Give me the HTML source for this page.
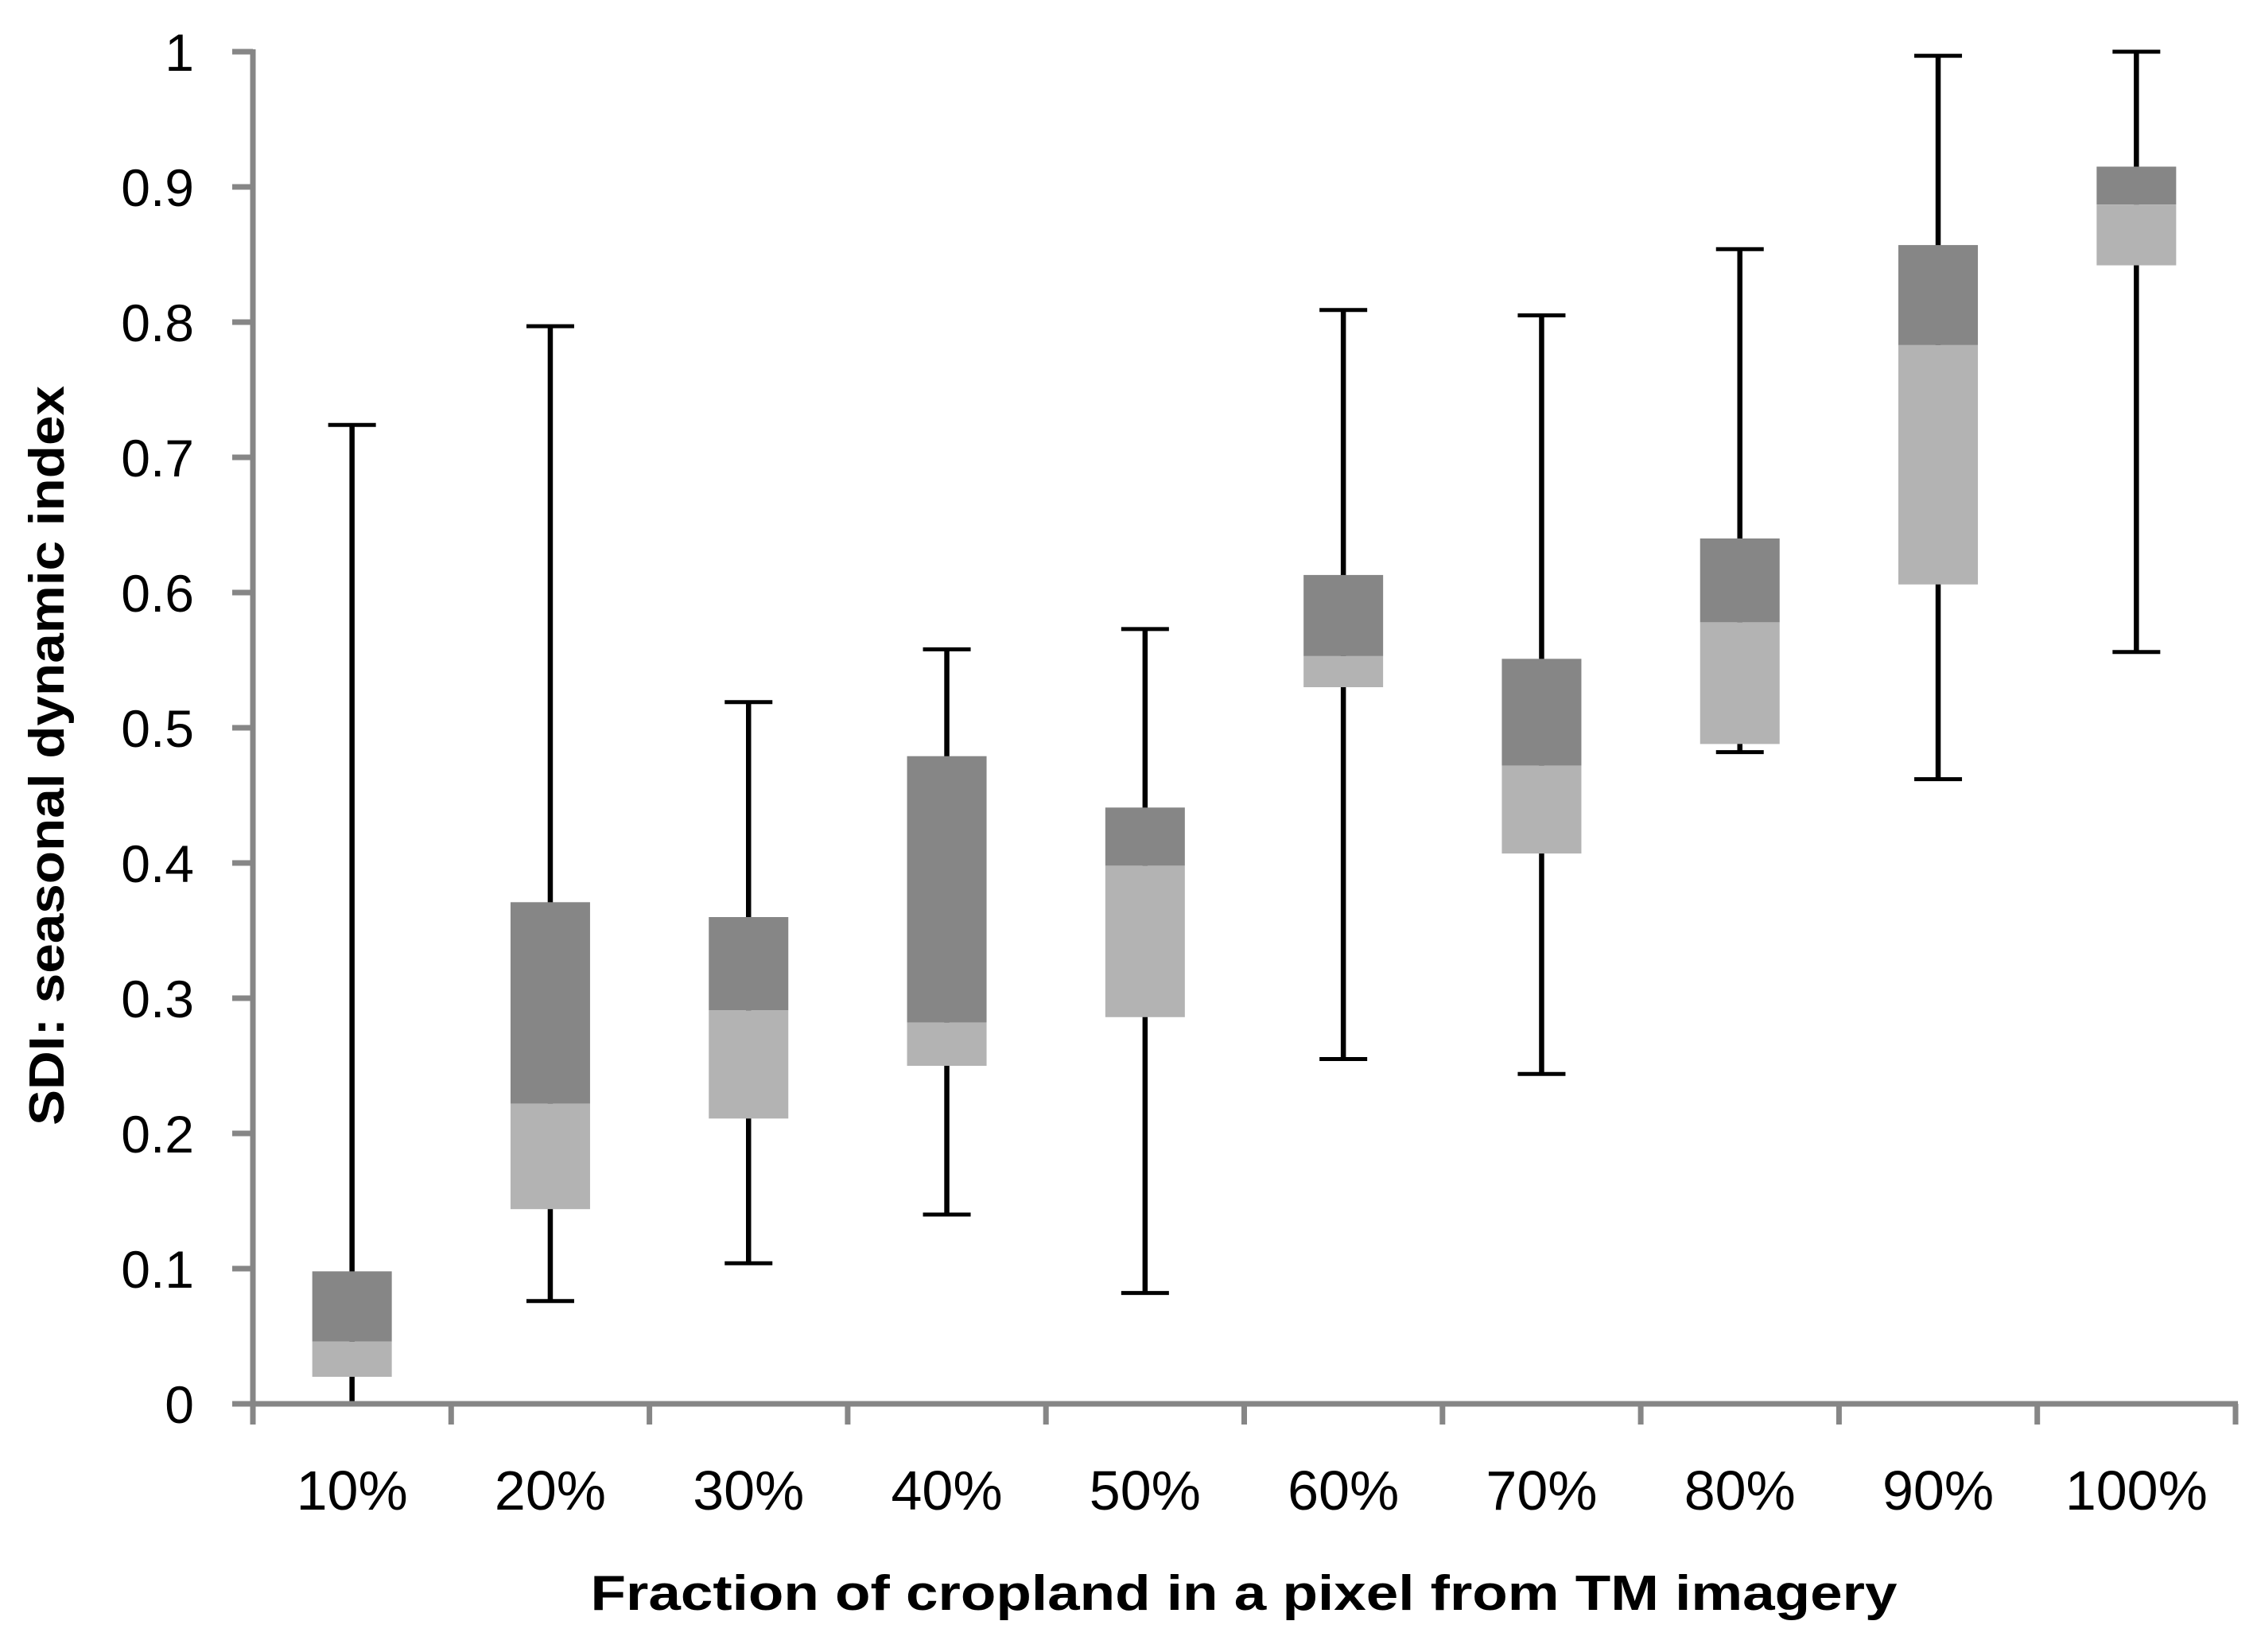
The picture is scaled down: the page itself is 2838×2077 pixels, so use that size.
<!DOCTYPE html>
<html><head><meta charset="utf-8"><style>
html,body{margin:0;padding:0;background:#fff;}
svg{display:block;}
text{font-family:"Liberation Sans",sans-serif;fill:#000;}
</style></head><body>
<svg id="chart" width="2838" height="2077" viewBox="0 0 2838 2077">
<g id="marks"></g>
<g id="axes"></g>
<text x="1564" y="2024" font-size="62" font-weight="bold" text-anchor="middle" textLength="1643" lengthAdjust="spacingAndGlyphs">Fraction of cropland in a pixel from TM imagery</text>
<text transform="translate(80,950) rotate(-90)" font-size="62" font-weight="bold" text-anchor="middle" textLength="930" lengthAdjust="spacingAndGlyphs">SDI:  seasonal dynamic index</text>
</svg>
<script>
const categories = ["10%","20%","30%","40%","50%","60%","70%","80%","90%","100%"];
const whiskerHigh = [0.724,0.797,0.519,0.558,0.573,0.809,0.805,0.854,0.997,1.0];
const boxTop = [0.098,0.371,0.360,0.479,0.441,0.613,0.551,0.640,0.857,0.915];
const median = [0.046,0.222,0.291,0.282,0.398,0.553,0.472,0.578,0.783,0.887];
const boxBottom = [0.020,0.144,0.211,0.250,0.286,0.530,0.407,0.488,0.606,0.842];
const whiskerLow = [0.0,0.076,0.104,0.140,0.082,0.255,0.244,0.482,0.462,0.556];
const yTicks = [0,0.1,0.2,0.3,0.4,0.5,0.6,0.7,0.8,0.9,1];
const yTickLabels = ["0","0.1","0.2","0.3","0.4","0.5","0.6","0.7","0.8","0.9","1"];

const NS="http://www.w3.org/2000/svg";
const X0=318, X1=2811, Y0=1765, Y1=65;
const band=(X1-X0)/categories.length;
function xc(i){return X0+band*(i+0.5);}
function yy(v){return Y0+(Y1-Y0)*v;}
function mk(tag,attrs,parent){const e=document.createElementNS(NS,tag);for(const k in attrs)e.setAttribute(k,attrs[k]);parent.appendChild(e);return e;}
const marks=document.getElementById('marks'), axes=document.getElementById('axes');
const bw=100, cap=60;
categories.forEach((c,i)=>{
  const cx=xc(i);
  const g=mk('g',{},marks);
  
  
  const w=mk('line',{x1:cx,x2:cx,y1:yy(whiskerHigh[i]),y2:yy(whiskerLow[i]),stroke:'#000','stroke-width':6.5},g);
  
  
  [whiskerHigh[i],whiskerLow[i]].forEach(v=>{
    const l=mk('line',{x1:cx-cap/2,x2:cx+cap/2,y1:yy(v),y2:yy(v),stroke:'#000','stroke-width':5},g);
    
    
  });
  const up=mk('rect',{x:cx-bw/2,width:bw,y:yy(boxTop[i]),height:yy(median[i])-yy(boxTop[i]),fill:'#868686'},g);
  
  
  const lo=mk('rect',{x:cx-bw/2,width:bw,y:yy(median[i]),height:yy(boxBottom[i])-yy(median[i]),fill:'#b3b3b3'},g);
  
  
  const t=mk('text',{x:cx,y:1898,'font-size':70,'text-anchor':'middle'},axes);
  t.textContent=c;
  
  
});
const ya=mk('line',{x1:X0,x2:X0,y1:Y1-3,y2:Y0+26,stroke:'#868686','stroke-width':7},axes);


const xa=mk('line',{x1:X0-26,x2:X1+3,y1:Y0,y2:Y0,stroke:'#868686','stroke-width':7},axes);


yTicks.forEach((v,i)=>{
  const tk=mk('line',{x1:X0-26,x2:X0,y1:yy(v),y2:yy(v),stroke:'#868686','stroke-width':7},axes);
  
  
  const t=mk('text',{x:244,y:yy(v)+24,'font-size':66,'text-anchor':'end'},axes);
  t.textContent=yTickLabels[i];
  
  
});
for(let i=0;i<=categories.length;i++){
  const x=X0+band*i;
  const tk=mk('line',{x1:x,x2:x,y1:Y0,y2:Y0+26,stroke:'#868686','stroke-width':7},axes);
  
  
}
</script>
</body></html>
